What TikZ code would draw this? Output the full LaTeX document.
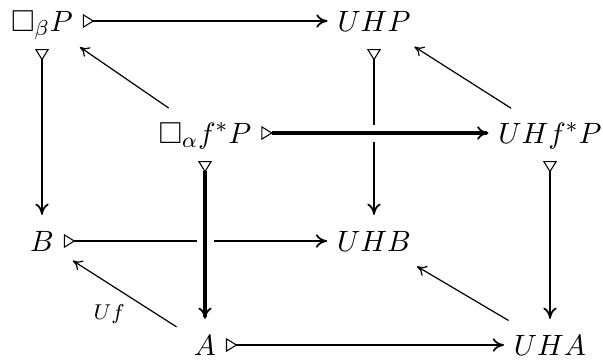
\documentclass[tikz,border=0pt]{standalone}
\usepackage{amssymb}
\usetikzlibrary{arrows.meta,calc}
\begin{document}
\begin{tikzpicture}[x=0.373pt,y=-0.373pt,
  obj/.style={inner sep=3.5pt, text height=7.5pt, text depth=0pt, font=\fontsize{11.3}{13}\selectfont},
  mono/.style={line width=1pt, {Triangle[open,reversed,length=4.3pt,width=5.2pt,line width=0.4pt]}-{To[length=4.2pt,width=5pt,line width=0.65pt]}},
  vert/.style={shorten <=3pt, shorten >=2.3pt},
  boldar/.style={line width=1.3pt},
  diag/.style={line width=0.45pt, -{To[length=3.5pt,width=4.2pt]}, shorten <=3.3pt, shorten >=4pt},
  gap/.style={fill=white, draw=none}
]
\useasboundingbox (0,0) rectangle (603,360);
% back face
\node[obj] (bP)  at (42,21)   {$\Box_{\beta}P$};
\node[obj] (UHP) at (374,21)  {$UHP$};
\node[obj] (B)   at (42,241)  {$B$};
\node[obj] (UHB) at (374,241) {$UHB$};
% front face
\node[obj] (af)  at (205,133) {$\Box_{\alpha}f^{*}P$};
\node[obj] (UHf) at (550,133) {$UHf^{*}P$};
\node[obj] (A)   at (205,345) {$A$};
\node[obj] (UHA) at (550,345) {$UHA$};
% back face arrows
\draw[mono] (bP) -- (UHP);
\draw[mono,vert] (bP) -- (B);
\draw[mono,vert] (UHP) -- (UHB);
% crossing: front top over back right vertical
\path[gap] ($(UHP|-af)+(-4,-8.5)$) rectangle ($(UHP|-af)+(4,8.5)$);
\draw[mono,boldar] (af) -- (UHf);
\draw[mono] (B) -- (UHB);
% crossing: front left vertical over back bottom
\path[gap] ($(af|-B)+(-8.5,-4)$) rectangle ($(af|-B)+(8.5,4)$);
\draw[mono,vert,boldar] (af) -- (A);
\draw[mono,vert] (UHf) -- (UHA);
\draw[mono] (A) -- (UHA);
% diagonals
\draw[diag] (af) -- (bP);
\draw[diag] (UHf) -- (UHP);
\draw[diag] (A) -- node[pos=0.5, below left, inner sep=2pt, xshift=2.5pt, yshift=-2pt, font=\footnotesize] {$Uf$} (B);
\draw[diag] (UHA) -- (UHB);
\end{tikzpicture}
\end{document}
